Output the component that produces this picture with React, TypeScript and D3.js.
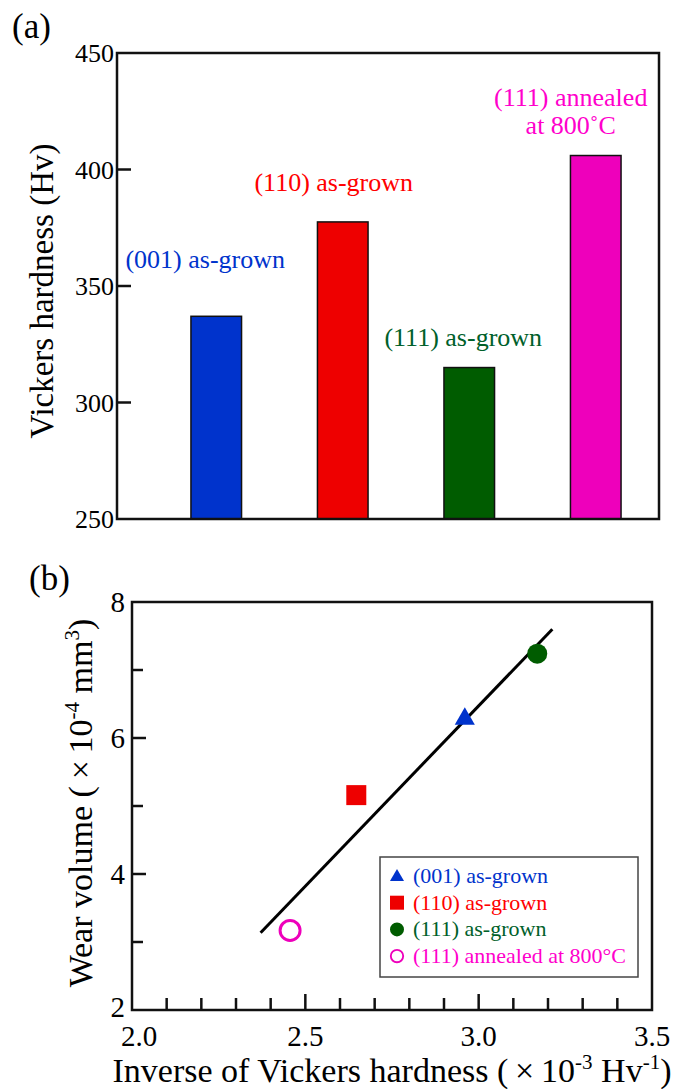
import * as d3 from "d3";
import { useRef, useEffect } from "react";

// panel (a) data
const categories = ["(001)", "(110)", "(111)", "(111) annealed"];
const hardness = [337, 377.5, 315, 406];
const barLabels = [["(001) as-grown"], ["(110) as-grown"], ["(111) as-grown"], ["(111) annealed", "at 800˚C"]];
const hardnessTicks = [250, 300, 350, 400, 450];

// panel (b) data
const inverseHardness = [2.96, 2.647, 3.169, 2.456];
const wearVolume = [6.28, 5.16, 7.24, 3.17];
const legendLabels = ["(001) as-grown", "(110) as-grown", "(111) as-grown", "(111) annealed at 800°C"];
const fitX = [2.371, 3.2125];
const fitY = [3.137, 7.6];
const wearTicks = [2, 4, 6, 8];
const wearMinorTicks = [3, 5, 7];
const inverseTicks = [2.0, 2.5, 3.0, 3.5];

// styling
const barColors = ["#0033cc", "#ee0000", "#005c00", "#ee00bb"];
const textColors = ["#0033cc", "#ff0000", "#00602a", "#ff00cc"];
const labelDx = [-11, -9, -6, -25];
const labelGap = [48, 31, 22, 22];
const FONT = "'Liberation Serif', 'Times New Roman', serif";

const App = () => {
  const ref = useRef<HTMLDivElement>(null);

  useEffect(() => {
    document.body.style.margin = "0";
    const root = d3.select(ref.current);
    root.select("svg").remove();

    const svg = root.append("svg")
      .attr("width", 688)
      .attr("height", 1089)
      .style("display", "block")
      .style("background", "#fff")
      .attr("font-family", FONT);

    // ---------- (a) bar chart ----------
    const a = { left: 117, right: 659, top: 53, bottom: 519 };
    const x = d3.scaleBand<string>()
      .domain(categories)
      .range([153, a.right])
      .paddingInner(0.6)
      .paddingOuter(0.3);
    const y = d3.scaleLinear().domain([250, 450]).range([a.bottom, a.top]);

    svg.append("text").attr("x", 12).attr("y", 38).attr("font-size", 35).text("(a)");

    svg.selectAll(".bar")
      .data(hardness)
      .join("rect")
      .attr("x", (_, i) => x(categories[i])!)
      .attr("y", d => y(d))
      .attr("width", x.bandwidth())
      .attr("height", d => a.bottom - y(d))
      .attr("fill", (_, i) => barColors[i])
      .attr("stroke", "#111")
      .attr("stroke-width", 1.5);

    hardness.forEach((v, i) => {
      const lines = barLabels[i];
      const cx = x(categories[i])! + x.bandwidth() / 2 + labelDx[i];
      const base = y(v) - labelGap[i];
      lines.forEach((t, j) => {
        svg.append("text")
          .attr("x", cx)
          .attr("y", base - (lines.length - 1 - j) * 28)
          .attr("text-anchor", "middle")
          .attr("font-size", 26)
          .attr("fill", textColors[i])
          .text(t);
      });
    });

    svg.append("g")
      .selectAll("line")
      .data(hardnessTicks.slice(1, -1))
      .join("line")
      .attr("x1", a.left).attr("x2", a.left + 14)
      .attr("y1", d => y(d)).attr("y2", d => y(d))
      .attr("stroke", "#111").attr("stroke-width", 2.5);

    svg.append("g")
      .selectAll("text")
      .data(hardnessTicks)
      .join("text")
      .attr("x", a.left - 3)
      .attr("y", d => y(d))
      .attr("dy", "0.35em")
      .attr("text-anchor", "end")
      .attr("font-size", 26)
      .text(d => d);

    svg.append("rect")
      .attr("x", a.left).attr("y", a.top)
      .attr("width", a.right - a.left).attr("height", a.bottom - a.top)
      .attr("fill", "none").attr("stroke", "#111").attr("stroke-width", 2.5);

    svg.append("text")
      .attr("transform", `translate(53,${(a.top + a.bottom) / 2 + 5}) rotate(-90)`)
      .attr("text-anchor", "middle")
      .attr("font-size", 33)
      .text("Vickers hardness (Hv)");

    // ---------- (b) scatter ----------
    const b = { left: 132, right: 652, top: 602, bottom: 1010 };
    const sx = d3.scaleLinear().domain([2.0, 3.5]).range([b.left, b.right]);
    const sy = d3.scaleLinear().domain([2, 8]).range([b.bottom, b.top]);

    svg.append("text").attr("x", 29).attr("y", 590).attr("font-size", 35).text("(b)");

    // x ticks every 0.1
    svg.append("g")
      .selectAll("line")
      .data(sx.ticks(15).slice(1, -1))
      .join("line")
      .attr("x1", d => sx(d)).attr("x2", d => sx(d))
      .attr("y1", b.bottom)
      .attr("y2", d => b.bottom - (inverseTicks.some(t => Math.abs(t - d) < 1e-6) ? 16 : 12))
      .attr("stroke", "#111").attr("stroke-width", 2.5);

    svg.append("g")
      .selectAll("line")
      .data([...wearTicks.slice(1, -1), ...wearMinorTicks])
      .join("line")
      .attr("x1", b.left)
      .attr("x2", d => b.left + (wearTicks.includes(d) ? 14 : 11))
      .attr("y1", d => sy(d)).attr("y2", d => sy(d))
      .attr("stroke", "#111").attr("stroke-width", 2.5);

    svg.append("g")
      .selectAll("text")
      .data(inverseTicks)
      .join("text")
      .attr("x", (d, i) => sx(d) + (i === 0 ? 7 : 0))
      .attr("y", 1046)
      .attr("text-anchor", "middle")
      .attr("font-size", 29)
      .text(d => d.toFixed(1));

    svg.append("g")
      .selectAll("text")
      .data(wearTicks)
      .join("text")
      .attr("x", b.left - 7)
      .attr("y", d => sy(d) - (d === 2 ? 3 : 0))
      .attr("dy", "0.35em")
      .attr("text-anchor", "end")
      .attr("font-size", 29)
      .text(d => d);

    svg.append("rect")
      .attr("x", b.left).attr("y", b.top)
      .attr("width", b.right - b.left).attr("height", b.bottom - b.top)
      .attr("fill", "none").attr("stroke", "#111").attr("stroke-width", 2.5);

    // fit line
    const line = d3.line<number>()
      .x(d => sx(d))
      .y((_, i) => sy(fitY[i]));
    svg.append("path")
      .attr("d", line(fitX))
      .attr("fill", "none")
      .attr("stroke", "#000")
      .attr("stroke-width", 3);

    const symbols = [d3.symbolTriangle, d3.symbolSquare, d3.symbolCircle, d3.symbolCircle];
    const sizes = [175, 400, 314, 314];
    const drawMarker = (g: any, i: number, px: number, py: number, scale: number) => {
      const path = d3.symbol().type(symbols[i]).size(sizes[i] * scale * scale)();
      const m = g.append("path")
        .attr("d", path)
        .attr("transform", `translate(${px},${py})`);
      if (i === 3) {
        m.attr("fill", "none").attr("stroke", barColors[3]).attr("stroke-width", 3 * scale);
      } else {
        m.attr("fill", barColors[i]);
      }
    };

    inverseHardness.forEach((v, i) => {
      drawMarker(svg, i, sx(v), sy(wearVolume[i]), 1);
    });

    // legend
    const lg = svg.append("g");
    lg.append("rect")
      .attr("x", 380).attr("y", 857).attr("width", 258).attr("height", 120)
      .attr("fill", "#fff").attr("stroke", "#444").attr("stroke-width", 1.5);
    legendLabels.forEach((t, i) => {
      const ry = 876 + i * 26.7;
      drawMarker(lg, i, 397, ry + (i === 0 ? 1 : 0), i === 3 ? 0.62 : 0.7);
      lg.append("text")
        .attr("x", 413).attr("y", ry + 7)
        .attr("font-size", 22)
        .attr("fill", textColors[i])
        .text(t);
    });

    // axis titles
    const xt = svg.append("text")
      .attr("x", 392).attr("y", 1082)
      .attr("text-anchor", "middle")
      .attr("font-size", 34);
    xt.append("tspan").text("Inverse of Vickers hardness (\u2009\u00d7\u200910");
    xt.append("tspan").attr("font-size", 21).attr("dy", -13).text("-3");
    xt.append("tspan").attr("dy", 13).text(" Hv");
    xt.append("tspan").attr("font-size", 21).attr("dy", -13).text("-1");
    xt.append("tspan").attr("dy", 13).text(")");

    const yt = svg.append("text")
      .attr("transform", `translate(92,${(b.top + b.bottom) / 2 - 3}) rotate(-90)`)
      .attr("text-anchor", "middle")
      .attr("font-size", 34);
    yt.append("tspan").text("Wear volume (\u2009\u00d7\u200910");
    yt.append("tspan").attr("font-size", 21).attr("dy", -13).text("-4");
    yt.append("tspan").attr("dy", 13).text(" mm");
    yt.append("tspan").attr("font-size", 21).attr("dy", -13).text("3");
    yt.append("tspan").attr("dy", 13).text(")");

    return () => {
      root.select("svg").remove();
    };
  }, []);

  return <div ref={ref}></div>;
};

export default App;
